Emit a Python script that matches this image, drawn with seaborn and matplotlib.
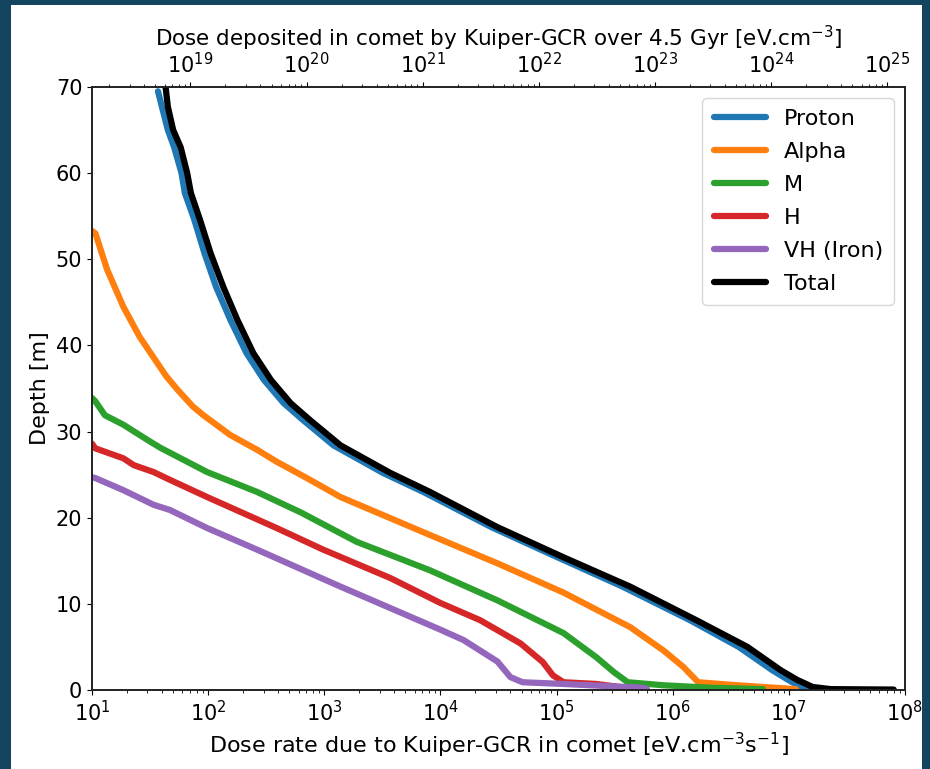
import numpy as np
import pandas as pd
import matplotlib
matplotlib.use("Agg")
import matplotlib.pyplot as plt
import seaborn as sns
from matplotlib.patches import Rectangle

sns.set_style("ticks", {"text.color": "black", "axes.labelcolor": "black",
                        "xtick.color": "black", "ytick.color": "black",
                        "axes.edgecolor": "black"})
plt.rcParams["font.family"] = ["DejaVu Sans"]

# depth [m] and dose rate [eV cm^-3 s^-1]
total_depth = [70.0, 67.7, 65.0, 63.0, 60.0, 57.7, 54.6, 50.7, 46.8, 43.0, 39.1, 36.0, 33.3, 31.3,
               28.4, 25.2, 23.0, 18.9, 15.4, 12.0, 8.1, 5.0, 2.3, 1.2, 0.35, 0.1, 0.05]
total_dose = [43, 45, 50, 58, 66, 71, 85, 105, 135, 178, 245, 347, 513, 759,
              1.38e3, 3.7e3, 8.1e3, 3.1e4, 1.15e5, 4.3e5, 1.6e6, 4.4e6, 8.5e6, 1.17e7, 1.6e7, 2.3e7, 8.0e7]

proton_depth = [69.5, 67.7, 65.0, 63.0, 60.0, 57.7, 54.6, 50.7, 46.8, 43.0, 39.1, 36.0, 33.3, 31.3,
                28.4, 25.2, 23.0, 18.9, 15.4, 12.0, 8.1, 5.0, 2.3, 1.2, 0.35, 0.1]
proton_dose = [37, 40, 45, 51, 59, 63, 76, 93, 117, 155, 214, 302, 447, 661,
               1.2e3, 3.2e3, 7.1e3, 2.75e4, 1.02e5, 3.7e5, 1.41e6, 3.7e6, 7.2e6, 9.8e6, 1.26e7, 1.55e7]

alpha_depth = [53.3, 53.0, 48.8, 44.5, 41.0, 36.4, 34.8, 32.9, 31.9, 29.6, 27.9, 26.5, 24.6, 22.4,
               18.0, 14.7, 11.3, 7.3, 4.6, 2.7, 1.5, 0.9, 0.6, 0.35, 0.1]
alpha_dose = [10, 10.7, 13.5, 18.6, 25.7, 43.7, 55, 74, 91, 155, 263, 389, 708, 1.38e3,
              8.1e3, 3.1e4, 1.15e5, 4.3e5, 8.3e5, 1.23e6, 1.5e6, 1.66e6, 3.2e6, 6.0e6, 1.15e7]

m_depth = [33.9, 33.5, 31.9, 30.8, 28.8, 28.1, 25.3, 23.0, 20.6, 17.2, 13.9, 10.4, 6.6, 3.8,
           2.1, 0.9, 0.55, 0.25, 0.1]
m_dose = [10, 10.7, 12.9, 18.6, 32, 39, 98, 263, 631, 1.9e3, 8.1e3, 3.1e4, 1.15e5, 2.2e5,
          3.1e5, 4.1e5, 8.3e5, 2.2e6, 6.0e6]

h_depth = [28.6, 28.05, 26.9, 26.1, 25.3, 24.4, 22.4, 18.8, 16.3, 13.0, 10.1, 8.1, 5.4, 3.25,
           1.7, 0.9, 0.7, 0.25]
h_dose = [10, 10.7, 18.6, 22.9, 33.9, 46.8, 98, 389, 977, 3.7e3, 1.0e4, 2.2e4, 4.9e4, 7.6e4,
          9.3e4, 1.15e5, 2.2e5, 4.0e5]

vh_depth = [24.7, 24.6, 23.2, 21.5, 20.9, 18.8, 16.3, 12.0, 7.0, 5.8, 3.3, 1.5, 0.9, 0.7, 0.25, 0.1]
vh_dose = [10, 10.7, 18.6, 33.9, 46.8, 98, 263, 1.38e3, 1.0e4, 1.58e4, 3.1e4, 4.0e4, 5.1e4,
           1.15e5, 5.6e5, 6.0e5]

labels = ["Proton", "Alpha", "M", "H", "VH (Iron)", "Total"]
colors = ["#1f77b4", "#ff7f0e", "#2ca02c", "#d62728", "#9467bd", "black"]
series = [(proton_dose, proton_depth), (alpha_dose, alpha_depth), (m_dose, m_depth),
          (h_dose, h_depth), (vh_dose, vh_depth), (total_dose, total_depth)]

gyr_seconds = 4.5e9 * 3.15576e7

fig = plt.figure(figsize=(9.3, 7.69), dpi=100, facecolor="#134561")
fig.patches.append(Rectangle((11 / 930, 0), 911 / 930, 1 - 5 / 769, transform=fig.transFigure,
                             facecolor="white", edgecolor="none", zorder=-10))
ax = fig.add_axes([92 / 930, 1 - 690 / 769, 813 / 930, 603 / 769])

for (dose, depth), lab, col in zip(series, labels, colors):
    df = pd.DataFrame({"dose": dose, "depth": depth})
    sns.lineplot(data=df, x="dose", y="depth", sort=False, estimator=None,
                 color=col, lw=4.5, label=lab, ax=ax)

ax.set_xscale("log")
ax.set_xlim(1e1, 1e8)
ax.set_ylim(0, 70)
ax.set_yticks(np.arange(0, 71, 10))
ax.tick_params(labelsize=15)
ax.set_xlabel(r"Dose rate due to Kuiper-GCR in comet [eV.cm$^{-3}$s$^{-1}$]", fontsize=16)
ax.set_ylabel("Depth [m]", fontsize=16)

leg = ax.legend(loc="upper right", fontsize=16, handlelength=2.35, borderpad=0.5,
                labelspacing=0.58, frameon=True)
for line in leg.get_lines():
    line.set_linewidth(4.5)

ax2 = ax.twiny()
ax2.set_xscale("log")
ax2.set_xlim(1e1 * gyr_seconds, 1e8 * gyr_seconds)
ax2.tick_params(labelsize=15)
ax2.set_xlabel(r"Dose deposited in comet by Kuiper-GCR over 4.5 Gyr [eV.cm$^{-3}$]", fontsize=15.5)

for a in (ax, ax2):
    for s in a.spines.values():
        s.set_color("#222222")
        s.set_linewidth(1.2)

fig.savefig("out.png", dpi=100, facecolor=fig.get_facecolor())
